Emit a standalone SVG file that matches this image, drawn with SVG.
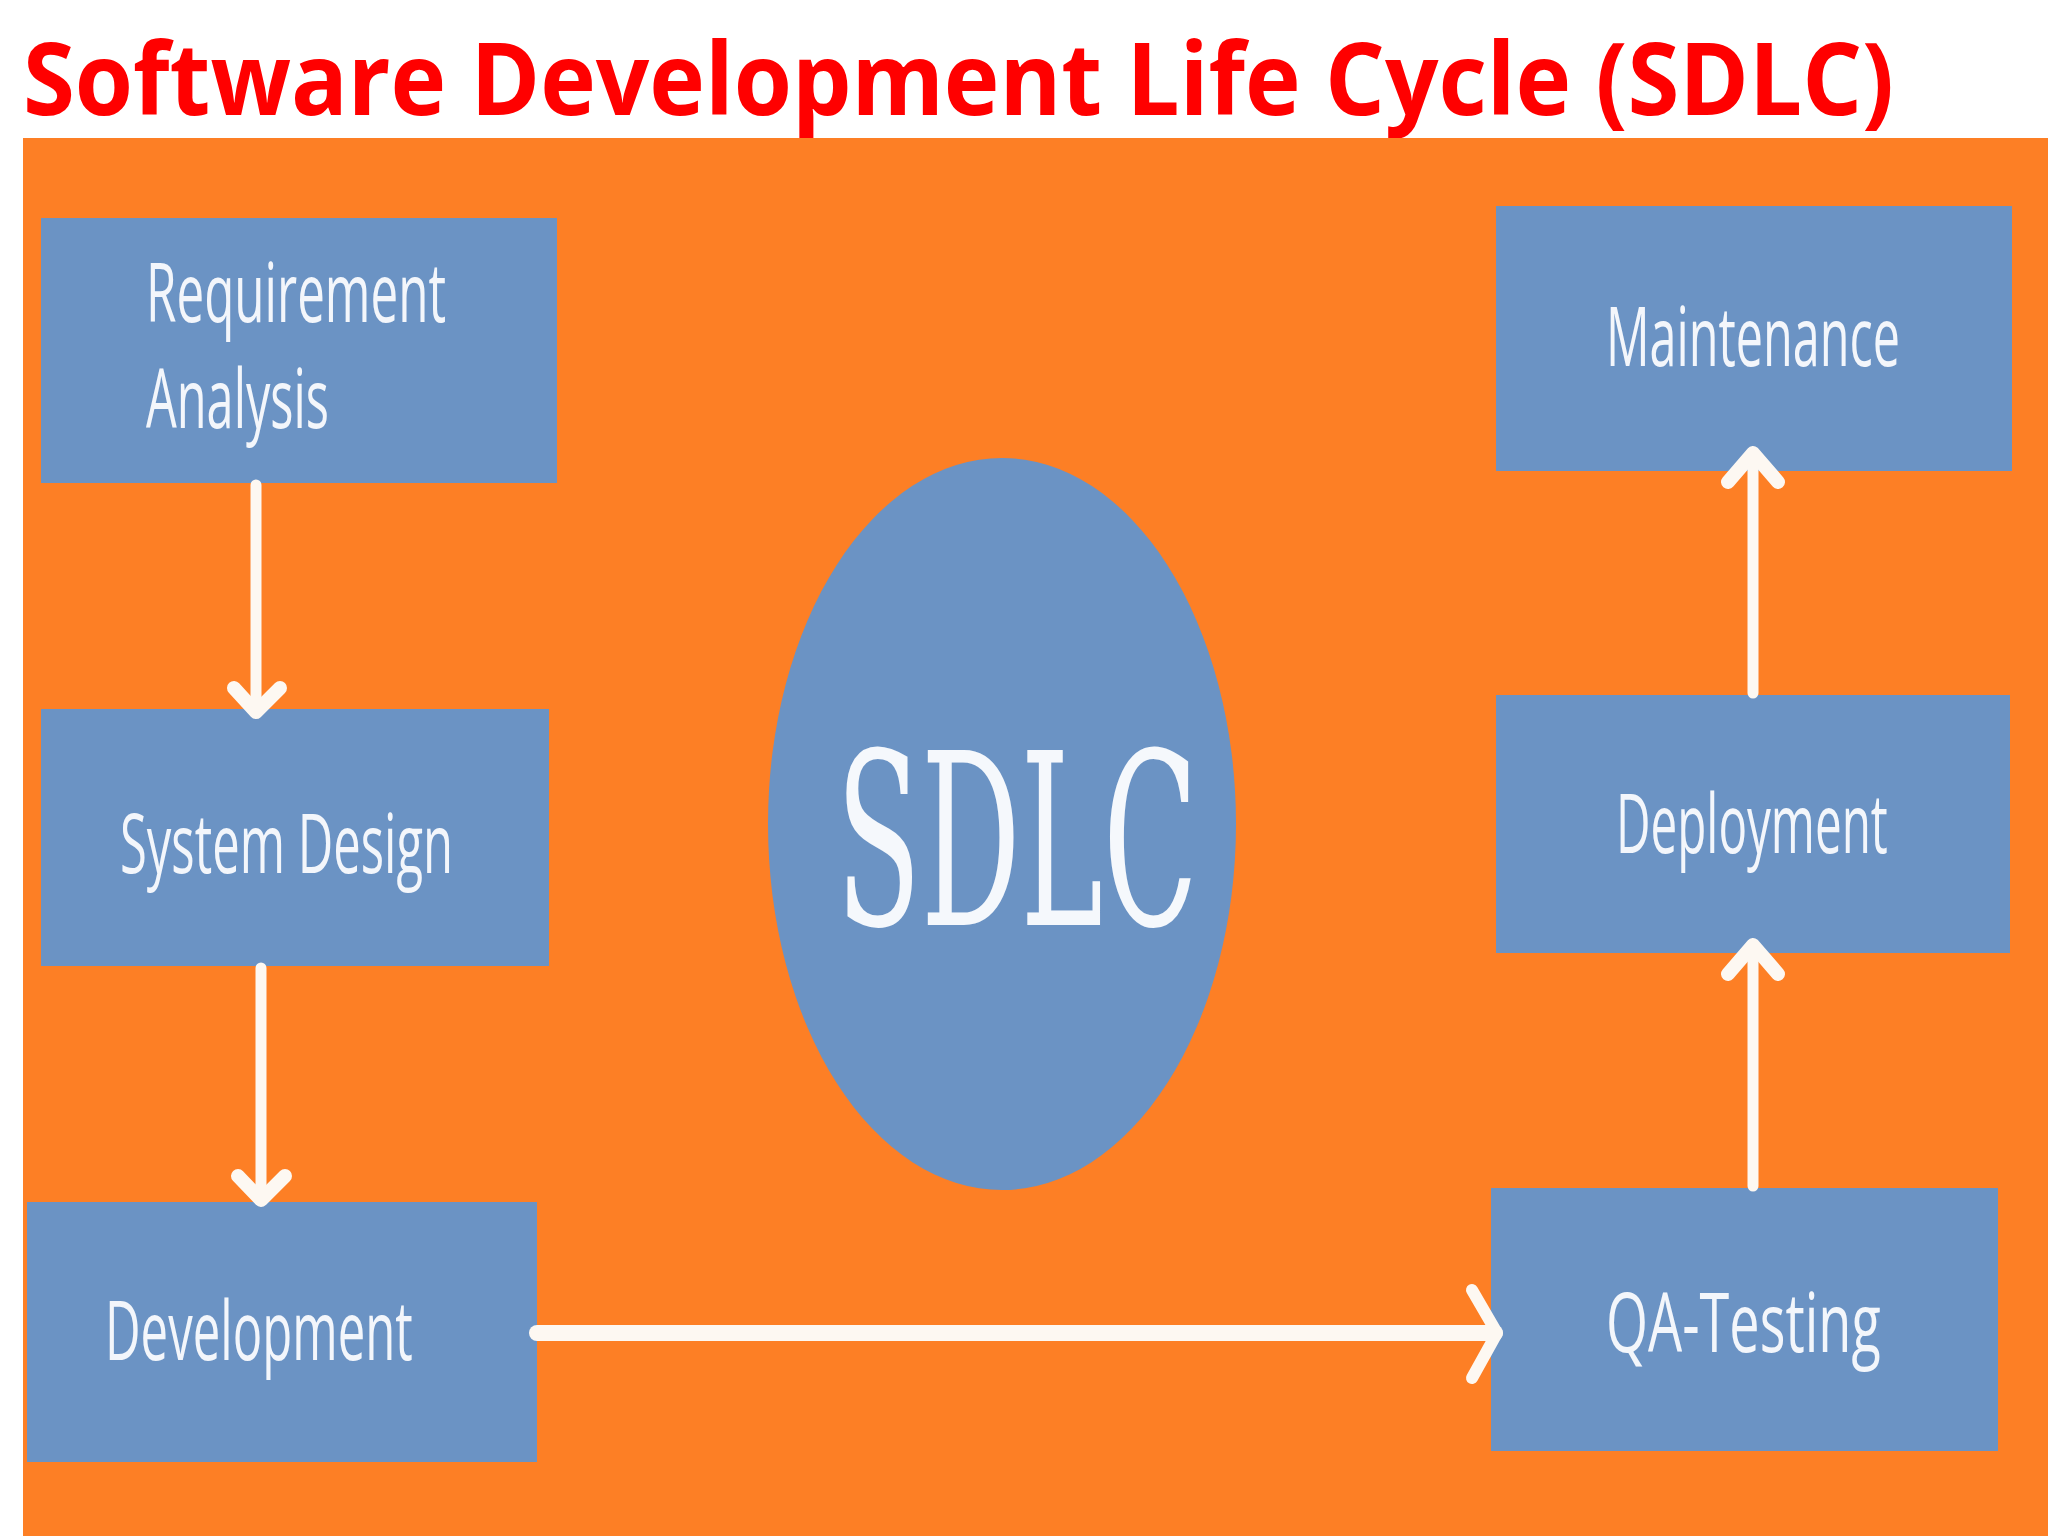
<svg xmlns="http://www.w3.org/2000/svg" width="2048" height="1536" viewBox="0 0 2048 1536">
<style>
.box{fill:#6b93c4;}
.lbl{font-family:"Open Sans","Liberation Sans",sans-serif;font-size:82px;fill:#f3f6fb;}
.con{stroke:#fdf8f2;stroke-width:11;fill:none;stroke-linecap:round;stroke-linejoin:round;}
</style>
<rect x="0" y="0" width="2048" height="1536" fill="#ffffff"/>
<text id="title" x="23" y="115" font-family="'Open Sans','Noto Sans','Liberation Sans',sans-serif" font-weight="bold" font-size="100" fill="#ff0000" textLength="1871" lengthAdjust="spacingAndGlyphs">Software Development Life Cycle (SDLC)</text>
<rect x="23" y="138" width="2025" height="1398" fill="#fd7f25"/>
<g id="n-req"><rect class="box" x="41" y="218" width="516" height="265"/><text class="lbl" transform="translate(146,322) scale(0.6,1)" textLength="500" lengthAdjust="spacingAndGlyphs">Requirement</text><text class="lbl" transform="translate(146,428) scale(0.6,1)" textLength="305" lengthAdjust="spacingAndGlyphs">Analysis</text></g>
<g id="n-sys"><rect class="box" x="41" y="709" width="508" height="257"/><text class="lbl" transform="translate(120,873) scale(0.6,1)" textLength="555" lengthAdjust="spacingAndGlyphs">System Design</text></g>
<g id="n-dev"><rect class="box" x="27" y="1202" width="510" height="260"/><text class="lbl" transform="translate(105,1360) scale(0.6,1)" textLength="513" lengthAdjust="spacingAndGlyphs">Development</text></g>
<g id="n-sdlc"><ellipse cx="1002" cy="824" rx="234" ry="366" fill="#6b93c4"/><text x="836" y="925" font-family="'DejaVu Serif','Liberation Serif',serif" font-size="240" fill="#f5f8fc" textLength="362" lengthAdjust="spacingAndGlyphs">SDLC</text></g>
<g id="n-maint"><rect class="box" x="1496" y="206" width="516" height="265"/><text class="lbl" transform="translate(1606,366) scale(0.6,1)" textLength="490" lengthAdjust="spacingAndGlyphs">Maintenance</text></g>
<g id="n-deploy"><rect class="box" x="1496" y="695" width="514" height="258"/><text class="lbl" transform="translate(1616,853) scale(0.6,1)" textLength="453" lengthAdjust="spacingAndGlyphs">Deployment</text></g>
<g id="n-qa"><rect class="box" x="1491" y="1188" width="507" height="263"/><text class="lbl" transform="translate(1606,1352) scale(0.6,1)" textLength="458" lengthAdjust="spacingAndGlyphs">QA-Testing</text></g>
<g id="connectors">
<path class="con" d="M256 485 V712"/><path class="con" d="M234 688 L256 712 L280 688" style="stroke-width:14"/>
<path class="con" d="M261 968 V1200"/><path class="con" d="M238 1176 L261 1200 L285 1176" style="stroke-width:14"/>
<path class="con" d="M537 1333 H1495" style="stroke-width:16"/><path class="con" d="M1472 1290 L1497 1333 L1472 1378" style="stroke-width:12"/>
<path class="con" d="M1753 1186 V945"/><path class="con" d="M1728 974 L1753 945 L1778 974" style="stroke-width:14"/>
<path class="con" d="M1753 693 V453"/><path class="con" d="M1728 482 L1753 453 L1778 482" style="stroke-width:14"/>
</g>
</svg>
